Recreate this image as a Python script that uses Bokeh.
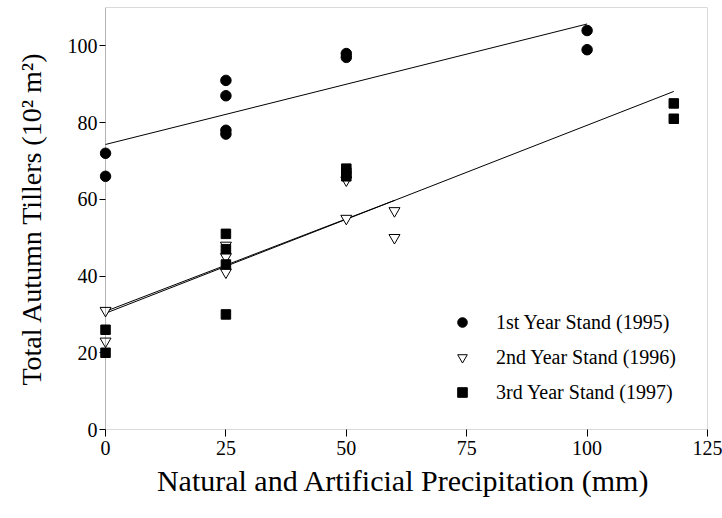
import numpy as np
from bokeh.plotting import figure
from bokeh.models import Range1d, BoxAnnotation, Legend, LegendItem, FixedTicker
from bokeh.embed import file_html
from bokeh.resources import INLINE

# ---- data ----
x_1995 = [0, 0, 25, 25, 25, 25, 50, 50, 100, 100]
y_1995 = [72, 66, 91, 87, 78, 77, 98, 97, 104, 99]

x_1996 = [0, 0, 25, 25, 25, 50, 50, 60, 60]
y_1996 = [31, 23, 48, 45, 41, 65, 55, 57, 50]

x_1997 = [0, 0, 25, 25, 25, 25, 50, 50, 50, 118, 118]
y_1997 = [26, 20, 51, 47, 43, 30, 68, 67, 66, 85, 81]

series_labels = ["1st Year Stand (1995)", "2nd Year Stand (1996)", "3rd Year Stand (1997)"]

# regression lines (intercept, slope, x extent)
fit_intercepts = [74.3, 30.8, 30.3]
fit_slopes = [0.314, 0.482, 0.490]
fit_x_min = [0, 0, 0]
fit_x_max = [100, 60, 118]

x_ticks = [0, 25, 50, 75, 100, 125]
y_ticks = [0, 20, 40, 60, 80, 100]

x_title = "Natural and Artificial Precipitation (mm)"
y_title = "Total Autumn Tillers (10\u00b2 m\u00b2)"

FONT = "Liberation Serif"

p = figure(width=722, height=518, output_backend="svg", toolbar_location=None,
           x_range=Range1d(-1.25, 125), y_range=Range1d(0, 110),
           min_border_left=99, min_border_right=15, min_border_top=7, min_border_bottom=89)
p.outline_line_color = None
p.grid.visible = False
p.background_fill_color = "white"
p.border_fill_color = "white"

# frame starting at x = 0 (so markers at x=0 are not clipped)
p.add_layout(BoxAnnotation(left=0, right=125, bottom=0, top=110,
                           fill_alpha=0, line_color="black", line_width=1))

# fit lines
for b, m, x0, x1 in zip(fit_intercepts, fit_slopes, fit_x_min, fit_x_max):
    xs = np.array([x0, x1], dtype=float)
    p.line(xs, b + m * xs, line_color="black", line_width=1)

r1 = p.scatter(x_1995, y_1995, marker="circle", size=10.5,
               fill_color="black", line_color="black")
r2 = p.scatter(x_1996, y_1996, marker="inverted_triangle", size=11,
               fill_color="white", line_color="black", line_width=1)
r3 = p.scatter(x_1997, y_1997, marker="square", size=9.5,
               fill_color="black", line_color="black")

# axes
xa = p.xaxis[0]
xa.ticker = FixedTicker(ticks=x_ticks)
xa.axis_line_color = None
xa.major_tick_out = 7
xa.major_tick_in = 0
xa.minor_tick_out = 0
xa.minor_tick_in = 0
xa.major_tick_line_color = "black"
xa.major_label_text_font = FONT
xa.major_label_text_font_size = "20px"
xa.major_label_text_color = "black"
xa.major_label_standoff = 4
xa.axis_label = x_title
xa.axis_label_text_font = FONT
xa.axis_label_text_font_size = "30px"
xa.axis_label_text_font_style = "normal"
xa.axis_label_text_color = "black"
xa.axis_label_standoff = 6

ya = p.yaxis[0]
ya.ticker = FixedTicker(ticks=y_ticks)
ya.axis_line_color = None
ya.major_tick_out = 0
ya.major_tick_in = 6
ya.minor_tick_out = 0
ya.minor_tick_in = 0
ya.major_tick_line_color = "black"
ya.major_label_text_font = FONT
ya.major_label_text_font_size = "20px"
ya.major_label_text_color = "black"
ya.major_label_standoff = 2
ya.axis_label = y_title
ya.axis_label_text_font = FONT
ya.axis_label_text_font_size = "28px"
ya.axis_label_text_font_style = "normal"
ya.axis_label_text_color = "black"
ya.axis_label_standoff = 18

legend = Legend(items=[LegendItem(label=series_labels[0], renderers=[r1]),
                       LegendItem(label=series_labels[1], renderers=[r2]),
                       LegendItem(label=series_labels[2], renderers=[r3])],
                location=(351, 22), orientation="vertical",
                border_line_color=None, background_fill_alpha=0,
                padding=0, margin=0, spacing=5,
                glyph_width=24, glyph_height=30, label_height=30,
                label_standoff=22,
                label_text_font=FONT, label_text_font_size="20px",
                label_text_color="black")
p.add_layout(legend, "center")

open("out.html", "w").write(file_html(p, INLINE))
